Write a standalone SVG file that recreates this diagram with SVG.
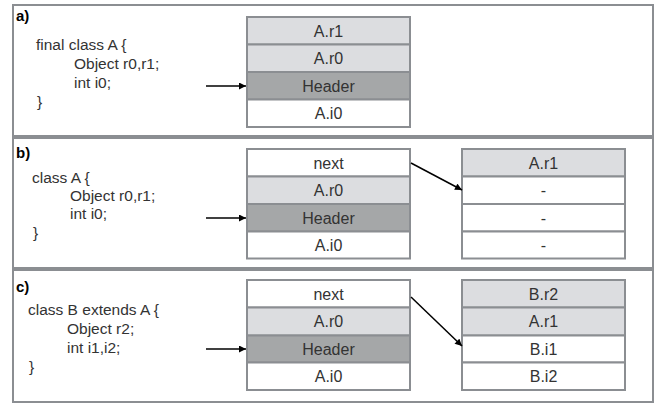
<svg xmlns="http://www.w3.org/2000/svg" width="656" height="405" viewBox="0 0 656 405">
<defs>
<marker id="ah" viewBox="0 0 10 10" refX="10" refY="5" markerWidth="8" markerHeight="7" markerUnits="userSpaceOnUse" orient="auto">
<path d="M0,0 L10,5 L0,10 z" fill="#000"/>
</marker>
<style>
.panel{fill:#fff;stroke:#8b8e92;stroke-width:2}
.cell{stroke:#8b8e92;stroke-width:2}
.lt{fill:#dcdde0}
.hd{fill:#a5a7a8}
.wh{fill:#fff}
.t{font-family:"Liberation Sans",Arial,sans-serif;font-size:15.5px;fill:#333}
.v{font-size:16px}
.c{text-anchor:middle}
.lab{font-family:"Liberation Sans",Arial,sans-serif;font-size:15px;font-weight:bold;fill:#000}
.conn{stroke:#000;stroke-width:1.5;fill:none;marker-end:url(#ah)}
</style>
</defs>
<g id="panel-a">
<rect class="panel" x="13" y="5" width="640" height="131"/>
<text class="lab" x="16" y="21">a)</text>
<text class="t" x="36" y="50">final class A {</text>
<text class="t" x="74" y="69">Object r0,r1;</text>
<text class="t" x="74" y="88">int i0;</text>
<text class="t" x="37" y="107">}</text>
</g>
<g id="panel-b">
<rect class="panel" x="13" y="138" width="640" height="130"/>
<text class="lab" x="16" y="158">b)</text>
<text class="t" x="32" y="183">class A {</text>
<text class="t" x="70" y="201">Object r0,r1;</text>
<text class="t" x="70" y="219">int i0;</text>
<text class="t" x="33" y="238">}</text>
</g>
<g id="panel-c">
<rect class="panel" x="13" y="270" width="640" height="132"/>
<text class="lab" x="16" y="292">c)</text>
<text class="t" x="28" y="315">class B extends A {</text>
<text class="t" x="67" y="334">Object r2;</text>
<text class="t" x="67" y="353">int i1,i2;</text>
<text class="t" x="29" y="372">}</text>
</g>
<g id="obj-a">
<rect class="cell lt" x="247" y="17" width="163" height="27.5"/>
<rect class="cell lt" x="247" y="44.5" width="163" height="27.5"/>
<rect class="cell hd" x="247" y="72" width="163" height="27.5"/>
<rect class="cell wh" x="247" y="99.5" width="163" height="27.5"/>
<text class="t v c" x="328.5" y="36.5">A.r1</text>
<text class="t v c" x="328.5" y="64">A.r0</text>
<text class="t v c" x="328.5" y="91.5">Header</text>
<text class="t v c" x="328.5" y="119">A.i0</text>
</g>
<g id="obj-b">
<rect class="cell wh" x="247" y="149" width="163" height="27.5"/>
<rect class="cell lt" x="247" y="176.5" width="163" height="27.5"/>
<rect class="cell hd" x="247" y="204" width="163" height="27.5"/>
<rect class="cell wh" x="247" y="231.5" width="163" height="27"/>
<text class="t v c" x="328.5" y="168.5">next</text>
<text class="t v c" x="328.5" y="196">A.r0</text>
<text class="t v c" x="328.5" y="223.5">Header</text>
<text class="t v c" x="328.5" y="251">A.i0</text>
</g>
<g id="ext-b">
<rect class="cell lt" x="462" y="149" width="163" height="27.5"/>
<rect class="cell wh" x="462" y="176.5" width="163" height="27.5"/>
<rect class="cell wh" x="462" y="204" width="163" height="27.5"/>
<rect class="cell wh" x="462" y="231.5" width="163" height="27"/>
<text class="t v c" x="543.5" y="168.5">A.r1</text>
<text class="t v c" x="543.5" y="196">-</text>
<text class="t v c" x="543.5" y="223.5">-</text>
<text class="t v c" x="543.5" y="251">-</text>
</g>
<g id="obj-c">
<rect class="cell wh" x="247" y="280" width="163" height="27.5"/>
<rect class="cell lt" x="247" y="307.5" width="163" height="28"/>
<rect class="cell hd" x="247" y="335.5" width="163" height="27"/>
<rect class="cell wh" x="247" y="362.5" width="163" height="27.5"/>
<text class="t v c" x="328.5" y="299.5">next</text>
<text class="t v c" x="328.5" y="327">A.r0</text>
<text class="t v c" x="328.5" y="354.5">Header</text>
<text class="t v c" x="328.5" y="381.5">A.i0</text>
</g>
<g id="ext-c">
<rect class="cell lt" x="462" y="280" width="163" height="27.5"/>
<rect class="cell lt" x="462" y="307.5" width="163" height="28"/>
<rect class="cell wh" x="462" y="335.5" width="163" height="27"/>
<rect class="cell wh" x="462" y="362.5" width="163" height="27.5"/>
<text class="t v c" x="543.5" y="299.5">B.r2</text>
<text class="t v c" x="543.5" y="327">A.r1</text>
<text class="t v c" x="543.5" y="354.5">B.i1</text>
<text class="t v c" x="543.5" y="381.5">B.i2</text>
</g>
<g id="connectors">
<line class="conn" x1="206" y1="86" x2="246" y2="86"/>
<line class="conn" x1="206" y1="218" x2="246" y2="218"/>
<line class="conn" x1="206" y1="349" x2="246" y2="349"/>
<line class="conn" x1="411" y1="163" x2="462" y2="190"/>
<line class="conn" x1="411" y1="297" x2="462" y2="346"/>
</g>
</svg>
